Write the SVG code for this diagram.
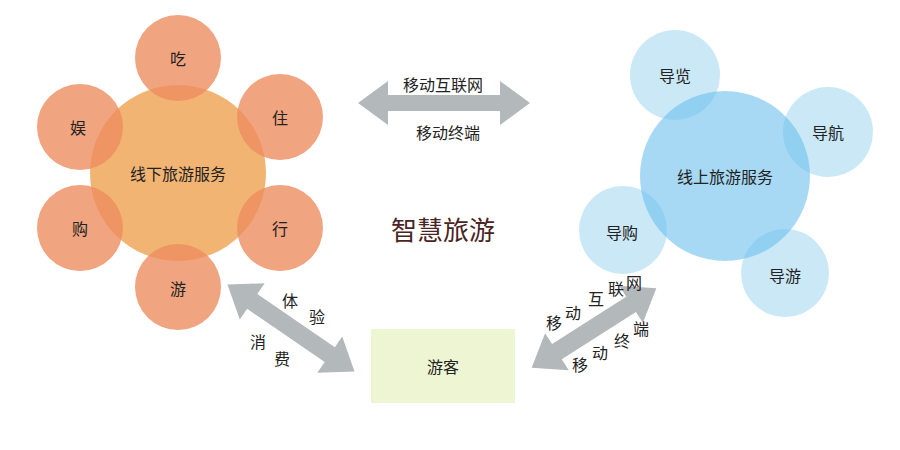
<svg xmlns="http://www.w3.org/2000/svg" width="900" height="450" viewBox="0 0 900 450">
<style>
text{font-family:"Noto Sans CJK SC",sans-serif;fill:#222;text-anchor:middle;dominant-baseline:central}
.o{fill:#ec8d5f;fill-opacity:.8}
.ob{fill:#f0a75a;fill-opacity:.85}
.b{fill:#a8d8f2;fill-opacity:.6}
.bb{fill:#6cc0ee;fill-opacity:.6}
.arr{fill:#b3b8bb}
.t{font-size:16px}
</style>
<defs><polygon id="da" points="-1,0 29,-22 29,-9 -29,-9 -29,-22 1,0"/></defs>
<rect width="900" height="450" fill="#fff"/>
<g id="offline">
<circle class="ob" cx="178" cy="173" r="88"/>
<circle class="o" cx="178" cy="58" r="43"/>
<circle class="o" cx="280" cy="117" r="43"/>
<circle class="o" cx="280" cy="228" r="43"/>
<circle class="o" cx="178" cy="287" r="43"/>
<circle class="o" cx="80" cy="228" r="43"/>
<circle class="o" cx="80" cy="127" r="43"/>
<text class="t" x="178" y="173">线下旅游服务</text>
<text class="t" x="178" y="58">吃</text>
<text class="t" x="280" y="117">住</text>
<text class="t" x="280" y="228">行</text>
<text class="t" x="178" y="288">游</text>
<text class="t" x="80" y="228">购</text>
<text class="t" x="78" y="127">娱</text>
</g>
<g id="online">
<circle class="b" cx="675" cy="75" r="45"/>
<circle class="b" cx="828" cy="132" r="45"/>
<circle class="b" cx="623" cy="230" r="44"/>
<circle class="b" cx="785" cy="273" r="44"/>
<circle class="bb" cx="725" cy="176" r="85"/>
<text class="t" x="725" y="176">线上旅游服务</text>
<text class="t" x="675" y="75">导览</text>
<text class="t" x="828" y="132">导航</text>
<text class="t" x="622" y="232">导购</text>
<text class="t" x="785" y="275">导游</text>
</g>
<g id="tourist">
<rect x="371" y="329" width="144" height="74" fill="#eef5d3"/>
<text class="t" x="443" y="366">游客</text>
</g>
<g id="title"><text x="443" y="228" font-size="26" style="fill:#4a2424">智慧旅游</text></g>
<g id="connectors">
<path class="arr" d="M358,103 L388,81 L388,95 L500,95 L500,81 L530,103 L500,125 L500,111 L388,111 L388,125 Z"/>
<g transform="translate(291,328) rotate(34.4)"><path class="arr" d="M-77,0 L-47,-22 L-47,-9 L47,-9 L47,-22 L77,0 L47,22 L47,9 L-47,9 L-47,22 Z"/></g>
<g transform="translate(594,328) rotate(-32.6)"><path class="arr" d="M-74,0 L-44,-22 L-44,-9 L44,-9 L44,-22 L74,0 L44,22 L44,9 L-44,9 L-44,22 Z"/></g>
<rect x="395" y="74" width="96" height="20" fill="#fff"/>
<text class="t" x="443" y="84">移动互联网</text>
<text class="t" x="448" y="132">移动终端</text>
<text class="t" x="290" y="300">体</text>
<text class="t" x="317" y="316">验</text>
<text class="t" x="258" y="341">消</text>
<text class="t" x="282" y="358">费</text>
<text class="t" x="554" y="322">移</text>
<text class="t" x="573" y="312">动</text>
<text class="t" x="596" y="298">互</text>
<text class="t" x="616" y="288">联</text>
<text class="t" x="634" y="282">网</text>
<text class="t" x="580" y="364">移</text>
<text class="t" x="600" y="352">动</text>
<text class="t" x="622" y="340">终</text>
<text class="t" x="641" y="328">端</text>
</g>
</svg>
